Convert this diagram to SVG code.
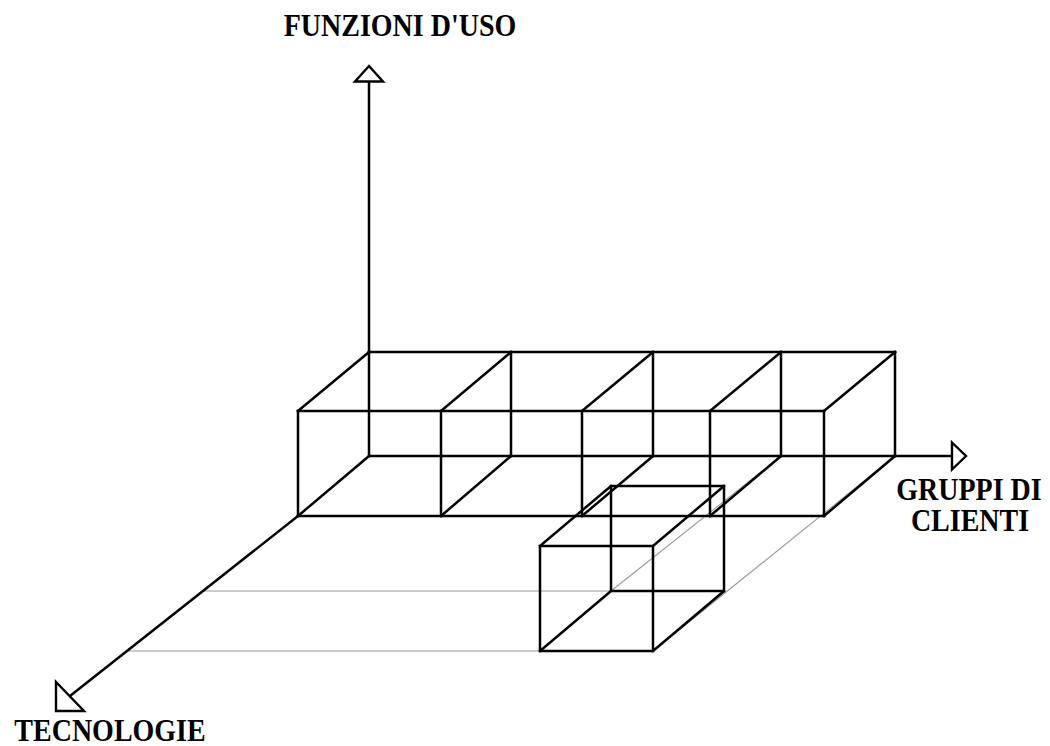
<svg xmlns="http://www.w3.org/2000/svg" width="1050" height="746" viewBox="0 0 1050 746">
  <style>
    .edge { stroke: #000; stroke-width: 2.5; fill: none; stroke-linecap: square; }
    .proj { stroke: #9a9a9a; stroke-width: 1.1; fill: none; }
    .head { stroke: #000; stroke-width: 2.4; fill: #fff; stroke-linejoin: miter; }
    .label { font-family: "Liberation Serif", "Times New Roman", serif; font-weight: bold; font-size: 28px; fill: #000; text-anchor: middle; }
  </style>
  <rect width="1050" height="746" fill="#fff"/>

  <!-- projection guides of the single cube -->
  <g id="projections">
    <line class="proj" x1="202" y1="591" x2="611" y2="591"/>
    <line class="proj" x1="127" y1="651" x2="540" y2="651"/>
    <line class="proj" x1="611" y1="591" x2="781" y2="456"/>
    <line class="proj" x1="653" y1="651" x2="895" y2="456"/>
  </g>

  <!-- axes -->
  <g id="axes">
    <line class="edge" x1="369" y1="82" x2="369" y2="352"/>
    <line class="edge" x1="895" y1="456" x2="952" y2="456"/>
    <line class="edge" x1="298" y1="516" x2="70" y2="696"/>
    <polygon class="head" points="369,66 355,81.5 383,81.5"/>
    <polygon class="head" points="952,442.5 966,456 952,469.5"/>
    <polygon class="head" points="56,682 56,711 84,711"/>
  </g>

  <!-- row of four cells -->
  <g id="block">
    <line class="edge" x1="369" y1="352" x2="895" y2="352"/>
    <line class="edge" x1="369" y1="456" x2="895" y2="456"/>
    <line class="edge" x1="298" y1="411" x2="824" y2="411"/>
    <line class="edge" x1="298" y1="516" x2="824" y2="516"/>
    <!-- front verticals -->
    <line class="edge" x1="298" y1="411" x2="298" y2="516"/>
    <line class="edge" x1="441" y1="411" x2="441" y2="516"/>
    <line class="edge" x1="582" y1="411" x2="582" y2="516"/>
    <line class="edge" x1="710" y1="411" x2="710" y2="516"/>
    <line class="edge" x1="824" y1="411" x2="824" y2="516"/>
    <!-- back verticals -->
    <line class="edge" x1="369" y1="352" x2="369" y2="456"/>
    <line class="edge" x1="511" y1="352" x2="511" y2="456"/>
    <line class="edge" x1="653" y1="352" x2="653" y2="456"/>
    <line class="edge" x1="781" y1="352" x2="781" y2="456"/>
    <line class="edge" x1="895" y1="352" x2="895" y2="456"/>
    <!-- top depth edges -->
    <line class="edge" x1="298" y1="411" x2="369" y2="352"/>
    <line class="edge" x1="441" y1="411" x2="511" y2="352"/>
    <line class="edge" x1="582" y1="411" x2="653" y2="352"/>
    <line class="edge" x1="710" y1="411" x2="781" y2="352"/>
    <line class="edge" x1="824" y1="411" x2="895" y2="352"/>
    <!-- bottom depth edges -->
    <line class="edge" x1="298" y1="516" x2="369" y2="456"/>
    <line class="edge" x1="441" y1="516" x2="511" y2="456"/>
    <line class="edge" x1="582" y1="516" x2="653" y2="456"/>
    <line class="edge" x1="710" y1="516" x2="781" y2="456"/>
    <line class="edge" x1="824" y1="516" x2="895" y2="456"/>
  </g>

  <!-- single cube in front -->
  <g id="cube">
    <rect class="edge" x="540" y="546" width="113" height="105"/>
    <rect class="edge" x="611" y="486" width="113" height="105"/>
    <line class="edge" x1="540" y1="546" x2="611" y2="486"/>
    <line class="edge" x1="653" y1="546" x2="724" y2="486"/>
    <line class="edge" x1="540" y1="651" x2="611" y2="591"/>
    <line class="edge" x1="653" y1="651" x2="724" y2="591"/>
  </g>

  <!-- axis labels (slightly tall lettering) -->
  <g id="label-funzioni"><text class="label" transform="translate(400 36) scale(1 1.1)">FUNZIONI D'USO</text></g>
  <g id="label-gruppi">
    <text class="label" transform="translate(969 500) scale(1 1.1)">GRUPPI DI</text>
    <text class="label" transform="translate(970 530.5) scale(1 1.1)">CLIENTI</text>
  </g>
  <g id="label-tecnologie"><text class="label" transform="translate(110 741) scale(1 1.1)">TECNOLOGIE</text></g>
</svg>
